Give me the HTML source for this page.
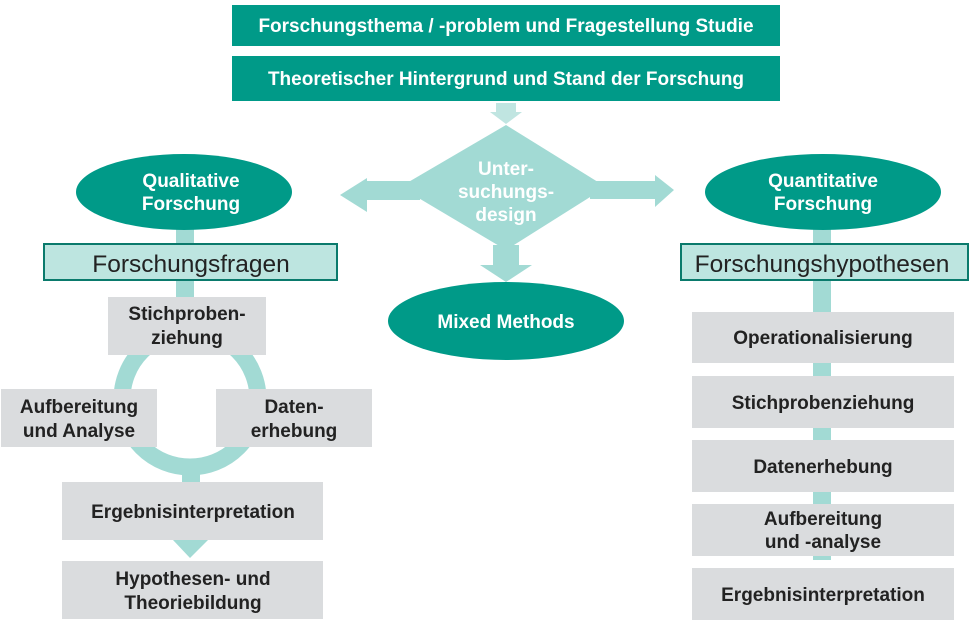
<!DOCTYPE html>
<html><head><meta charset="utf-8"><style>
body{margin:0;width:978px;height:622px;background:#fff;overflow:hidden;font-family:"Liberation Sans",sans-serif}
</style></head><body>
<svg width="978" height="622" xmlns="http://www.w3.org/2000/svg" font-family="Liberation Sans, sans-serif" font-weight="bold" text-anchor="middle">
<rect x="176" y="220" width="18" height="80" fill="#a2dad4"/>
<circle cx="190" cy="399" r="68" fill="none" stroke="#a2dad4" stroke-width="17"/>
<rect x="182" y="460" width="18" height="25" fill="#a2dad4"/>
<polygon points="173,540 208,540 190,558" fill="#a2dad4"/>
<rect x="813" y="220" width="18" height="340" fill="#a2dad4"/>
<polygon points="496,103 516,103 516,112 522,112 506,124 490,112 496,112" fill="#c0e5e1"/>
<polygon points="400,187 506,125 606,187 506,250" fill="#a2dad4"/>
<polygon points="420,181 367,181 367,178 340,195 367,212 367,200 420,200" fill="#a2dad4"/>
<polygon points="590,181 655,181 655,175 674,190 655,207 655,199 590,199" fill="#a2dad4"/>
<polygon points="493,245 519,245 519,265 532,265 506,282 480,265 493,265" fill="#a2dad4"/>
<rect x="232" y="5" width="548" height="41" fill="#009a88"/>
<text x="506" y="32" fill="#fff" font-size="19">Forschungsthema / -problem und Fragestellung Studie</text>
<rect x="232" y="56" width="548" height="45" fill="#009a88"/>
<text x="506" y="85" fill="#fff" font-size="19">Theoretischer Hintergrund und Stand der Forschung</text>
<text fill="#fff" font-size="19"><tspan x="506" y="175">Unter-</tspan><tspan x="506" y="198">suchungs-</tspan><tspan x="506" y="221">design</tspan></text>
<ellipse cx="184" cy="192" rx="108" ry="38" fill="#009a88"/>
<text fill="#fff" font-size="19"><tspan x="191" y="187">Qualitative</tspan><tspan x="191" y="210">Forschung</tspan></text>
<ellipse cx="823" cy="192" rx="118" ry="38" fill="#009a88"/>
<text fill="#fff" font-size="19"><tspan x="823" y="187">Quantitative</tspan><tspan x="823" y="210">Forschung</tspan></text>
<ellipse cx="506" cy="321" rx="118" ry="39" fill="#009a88"/>
<text x="506" y="328" fill="#fff" font-size="19">Mixed Methods</text>
<rect x="44" y="244" width="293" height="36" fill="#bde5e0" stroke="#0a7a6c" stroke-width="2"/>
<text x="191" y="272" fill="#222" font-size="24.5" font-weight="normal">Forschungsfragen</text>
<rect x="681" y="244" width="287" height="36" fill="#bde5e0" stroke="#0a7a6c" stroke-width="2"/>
<text x="822" y="272" fill="#222" font-size="24.5" font-weight="normal">Forschungshypothesen</text>
<g fill="#dadcde">
<rect x="108" y="297" width="158" height="58"/>
<rect x="1" y="389" width="156" height="58"/>
<rect x="216" y="389" width="156" height="58"/>
<rect x="62" y="482" width="261" height="58"/>
<rect x="62" y="561" width="261" height="58"/>
<rect x="692" y="312" width="262" height="51"/>
<rect x="692" y="376" width="262" height="52"/>
<rect x="692" y="440" width="262" height="52"/>
<rect x="692" y="504" width="262" height="52"/>
<rect x="692" y="568" width="262" height="52"/>
</g>
<g fill="#222" font-size="19">
<text><tspan x="187" y="320">Stichproben-</tspan><tspan x="187" y="344">ziehung</tspan></text>
<text><tspan x="79" y="413">Aufbereitung</tspan><tspan x="79" y="437">und Analyse</tspan></text>
<text><tspan x="294" y="413">Daten-</tspan><tspan x="294" y="437">erhebung</tspan></text>
<text x="193" y="518">Ergebnisinterpretation</text>
<text><tspan x="193" y="585">Hypothesen- und</tspan><tspan x="193" y="609">Theoriebildung</tspan></text>
<text x="823" y="344">Operationalisierung</text>
<text x="823" y="409">Stichprobenziehung</text>
<text x="823" y="473">Datenerhebung</text>
<text><tspan x="823" y="525">Aufbereitung</tspan><tspan x="823" y="548">und -analyse</tspan></text>
<text x="823" y="601">Ergebnisinterpretation</text>
</g>
</svg>
</body></html>
